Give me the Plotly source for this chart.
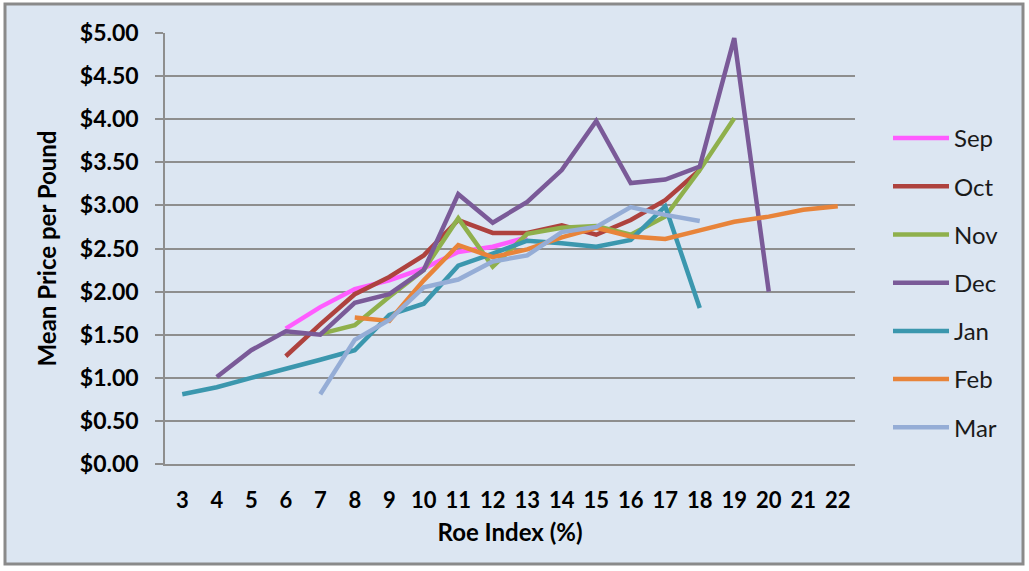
import plotly.graph_objects as go

categories = [str(i) for i in range(3, 23)]
N = None
# values by category 3..22
sep = [N, N, N, 1.57, 1.82, 2.03, 2.13, 2.27, 2.46, 2.52, 2.63, N, N, N, N, N, N, N, N, N]
oct_ = [N, N, N, 1.25, 1.62, 1.97, 2.17, 2.42, 2.83, 2.68, 2.68, 2.77, 2.66, 2.83, 3.06, 3.41, N, N, N, N]
nov = [N, N, N, N, 1.51, 1.61, 1.94, 2.25, 2.85, 2.29, 2.67, 2.74, 2.76, 2.66, 2.87, 3.41, 4.01, N, N, N]
dec = [N, 1.01, 1.32, 1.54, 1.50, 1.87, 1.97, 2.25, 3.13, 2.80, 3.04, 3.41, 3.98, 3.26, 3.30, 3.45, 4.94, 2.00, N, N]
jan = [0.81, 0.89, 1.00, 1.10, 1.21, 1.32, 1.73, 1.86, 2.30, 2.44, 2.59, 2.56, 2.52, 2.60, 2.99, 1.81, N, N, N, N]
feb = [N, N, N, N, N, 1.70, 1.66, 2.13, 2.54, 2.40, 2.49, 2.63, 2.74, 2.64, 2.61, 2.71, 2.81, 2.87, 2.95, 2.99]
mar = [N, N, N, N, 0.81, 1.44, 1.67, 2.05, 2.14, 2.35, 2.42, 2.69, 2.75, 2.98, 2.89, 2.82, N, N, N, N]

series_names = ["Sep", "Oct", "Nov", "Dec", "Jan", "Feb", "Mar"]
series_values = [sep, oct_, nov, dec, jan, feb, mar]
colors = ["#ff5cff", "#ae423e", "#8fb04c", "#7a5a98", "#3b97ae", "#e8843a", "#95add6"]

BG = "#dce6f2"
GRID = "#8e8e8e"
FONT = "Lato"

fig = go.Figure()
for name, vals, c in zip(series_names, series_values, colors):
    fig.add_trace(go.Scatter(
        x=categories, y=vals, name=name, mode="lines",
        line=dict(color=c, width=4.5), connectgaps=False,
        legendgroup=name,
    ))

L, R, T, B = 165, 855, 33, 464
W, H = 1029, 571
pw, ph = R - L, B - T

def px(x):
    return (x - L) / pw

def py(y):
    return (B - y) / ph

fig.add_shape(type="rect", xref="paper", yref="paper",
              x0=px(5), x1=px(1023), y0=py(564), y1=py(4),
              line=dict(color="#8a8a8a", width=3), fillcolor=BG, layer="below")

fig.update_layout(
    width=W, height=H,
    margin=dict(l=L, r=W - R, t=T, b=H - B, autoexpand=False),
    paper_bgcolor="white",
    plot_bgcolor="rgba(0,0,0,0)",
    font=dict(family=FONT, color="black"),
    showlegend=True,
    legend=dict(
        x=px(888), y=py(116), xanchor="left", yanchor="top",
        font=dict(size=24, family=FONT, color="#1a1a1a"),
        bgcolor="rgba(0,0,0,0)", tracegroupgap=14,
        traceorder="grouped", itemwidth=56,
    ),
    xaxis=dict(
        type="category", categoryorder="array", categoryarray=categories,
        range=[-0.5, 19.5],
        showgrid=False, showline=True, linecolor=GRID, linewidth=1.5,
        ticks="", tickfont=dict(size=22, family=FONT, weight="bold"),
        ticklabelstandoff=16,
        title=dict(text="<b>Roe Index (%)</b>", font=dict(size=24, family=FONT), standoff=12),
        zeroline=False,
    ),
    yaxis=dict(
        range=[0, 5], dtick=0.5, tick0=0, tickformat="$.2f",
        showgrid=True, gridcolor=GRID, gridwidth=1.5,
        showline=True, linecolor=GRID, linewidth=1.5,
        ticks="outside", ticklen=8, tickcolor=GRID, tickwidth=1.5,
        tickfont=dict(size=23, family=FONT, weight="bold"),
        ticklabelstandoff=12,
        title=dict(text="<b>Mean Price per Pound</b>", font=dict(size=24, family=FONT), standoff=16),
        zeroline=False,
    ),
)

fig.write_html("out.html", config={"displayModeBar": False},
               post_script="document.body.style.margin='0';document.body.style.overflow='hidden';")
